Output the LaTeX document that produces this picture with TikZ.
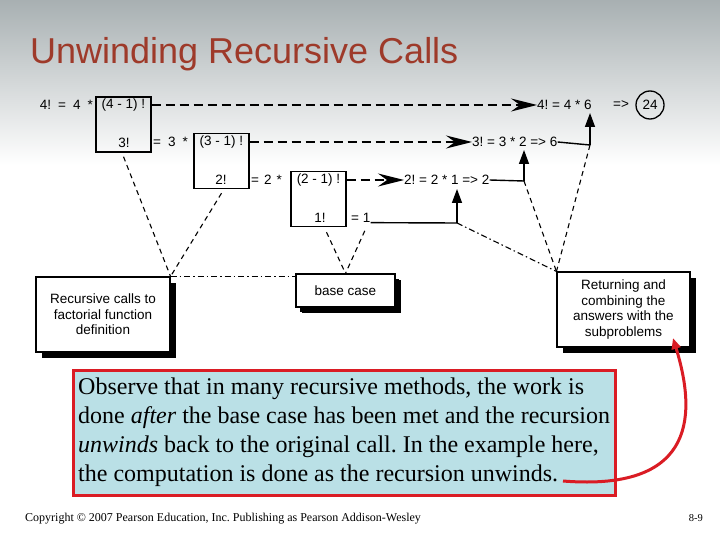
\documentclass[tikz,border=0pt]{standalone}
\usepackage{fontspec}
\setmainfont{Liberation Serif}
\setsansfont{Liberation Sans}
\usetikzlibrary{arrows.meta, positioning, shadows}
\definecolor{titlered}{RGB}{158,58,42}
\definecolor{slidegray}{RGB}{168,176,178}
\definecolor{noteblue}{RGB}{186,224,230}
\definecolor{notered}{RGB}{218,28,36}
\newcommand{\gap}{\hspace{7pt}}
\frenchspacing
\tikzset{
  calltxt/.style={font=\sffamily\fontsize{13.5}{15.5}\selectfont, inner sep=0pt},
  callbox/.style={draw, line width=1.4pt, minimum width=55pt, minimum height=55pt},
  notebox/.style={draw, fill=white, line width=1.1pt, align=center, inner sep=2pt,
    font=\sffamily\fontsize{13.5}{15.5}\selectfont,
    drop shadow={shadow xshift=6pt, shadow yshift=-6pt, fill=black, opacity=1}},
  callline/.style={line width=1.4pt, dash pattern=on 9pt off 5pt},
  callarrow/.style={callline, -{Stealth[length=26pt, width=13pt, inset=9pt]}},
  coneline/.style={line width=1.1pt, dash pattern=on 5pt off 4pt},
  linkline/.style={line width=1.1pt, dash pattern=on 6pt off 3pt on 1.5pt off 3pt},
  retline/.style={line width=1.4pt},
  uparrow/.style={retline, -{Triangle[length=14pt, width=10pt]}},
  redarrow/.style={draw=notered, line width=3pt, -{Triangle[length=11pt, width=9pt]}}
}
\begin{document}
\begin{tikzpicture}[x=1pt, y=-1pt]
  \useasboundingbox (0,0) rectangle (720,540);
  \fill[white] (0,0) rectangle (720,540);
  \shade[top color=slidegray, bottom color=white] (0,0) rectangle (720,165);

  \node[anchor=base west, inner sep=0pt, text=titlered,
        font=\sffamily\fontsize{36}{40}\selectfont] (title) at (30,64) {Unwinding Recursive Calls};

  % calls going down
  \node[calltxt, anchor=east] (lhs1) at (93,105) {4!\gap=\gap4\gap*};
  \node[callbox] (box1) at (123.5,124.5) {};
  \node[calltxt] (arg1) at (123.5,105) {(4 -\ 1) !};
  \node[calltxt] (sub1) at (124,143) {3!};
  \node[calltxt, anchor=west] (lhs2) at (153,142) {=\gap3\gap*};
  \node[callbox] (box2) at (221.5,161) {};
  \node[calltxt] (arg2) at (221.5,142) {(3 -\ 1) !};
  \node[calltxt] (sub2) at (221,180) {2!};
  \node[calltxt, anchor=west] (lhs3) at (251,180) {=\hspace{5pt}2\hspace{5pt}*};
  \node[callbox] (box3) at (318.5,199) {};
  \node[calltxt] (arg3) at (318.5,180) {(2 -\ 1) !};
  \node[calltxt] (sub3) at (320,218) {1!};
  \node[calltxt, anchor=west] (base1) at (351,218) {= 1};

  % results coming back
  \node[calltxt, anchor=west] (res4) at (537,105) {4! = 4 * 6};
  \node[calltxt, anchor=west] (arr4) at (613,105) {=>};
  \node[calltxt, draw, circle, line width=1.3pt, minimum size=28pt] (ans) at (650,105) {24};
  \node[calltxt, anchor=west] (res3) at (472,142) {3! = 3 * 2 => 6};
  \node[calltxt, anchor=west] (res2) at (404,180) {2! = 2 * 1 => 2};

  \draw[callarrow] (arg1.east -| box1.east) -- (res4.west);
  \draw[callarrow] (arg2.east -| box2.east) -- (res3.west);
  \draw[callarrow] (arg3.east -| box3.east) -- (res2.west);

  \coordinate (c1) at (457,223);
  \coordinate (c2) at (524,181);
  \coordinate (c3) at (590,145);
  \coordinate (t1) at (457,189);
  \coordinate (t2) at (524,150);
  \coordinate (t3) at (590,113);
  \draw[retline] (base1.base east) -- (c1);
  \draw[retline] (res2.east) -- (c2);
  \draw[retline] (res3.east) -- (c3);
  \draw[uparrow] (c1) -- (t1);
  \draw[uparrow] (c2) -- (t2);
  \draw[uparrow] (c3) -- (t3);

  % labels
  \node[notebox, minimum width=134pt, minimum height=75pt] (recbox) at (103,314.5)
    {Recursive calls to\\factorial function\\definition};
  \node[notebox, minimum width=99pt, minimum height=33pt, drop shadow={shadow xshift=4pt, shadow yshift=-5pt, fill=black, opacity=1}]
    (basebox) at (345.5,290.5) {base case};
  \node[notebox, minimum width=133pt, minimum height=75pt] (retbox) at (623.5,309.5)
    {Returning and\\combining the\\answers with the\\subproblems};

  \draw[coneline] ([yshift=-4pt]box1.south) -- (recbox.north east);
  \draw[coneline] ([yshift=-4pt]box2.south) -- (recbox.north east);
  \draw[coneline] ([xshift=8pt, yshift=-5pt]box3.south) -- (basebox.north);
  \draw[coneline] ([xshift=4pt, yshift=-8pt]base1.south) -- (basebox.north);
  \draw[linkline] (recbox.north east) -- (recbox.north east -| basebox.west);
  \draw[linkline] (c1) -- (retbox.north west);
  \draw[coneline] (c2) -- (retbox.north west);
  \draw[coneline] (c3) -- (retbox.north west);

  % note
  \draw[draw=notered, fill=noteblue, line width=3pt] (73,370) rectangle (615,495);
  \node[anchor=north west, align=left, inner sep=0pt,
        font=\fontsize{24}{29}\selectfont] (note) at (78,378)
    {Observe that in many recursive methods, the work is\\
     done \textit{after} the base case has been met and the recursion\\
     \textit{unwinds} back to the original call. In the example here,\\
     the computation is done as the recursion unwinds.};
  \coordinate (rstart) at (563,481);
  \coordinate (rend) at (673,338);
  \draw[redarrow] (rstart) .. controls (700,492) and (695,410) .. (rend);

  \node[anchor=base west, inner sep=0pt, font=\fontsize{12}{14}\selectfont] (copy) at (25,521)
    {Copyright © 2007 Pearson Education, Inc. Publishing as Pearson Addison-Wesley};
  \node[anchor=base east, inner sep=0pt, font=\fontsize{10.5}{12}\selectfont] (page) at (703,521) {8-9};
\end{tikzpicture}
\end{document}
